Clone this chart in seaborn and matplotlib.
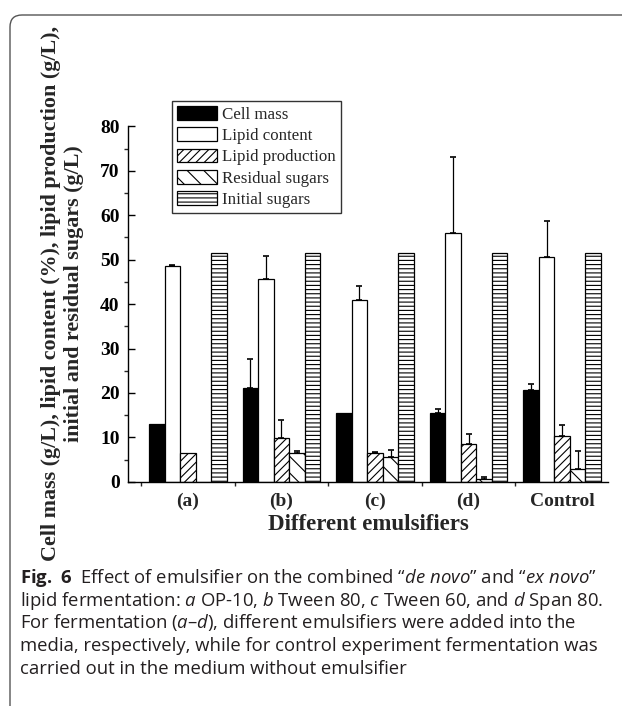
import numpy as np
import pandas as pd
import matplotlib
matplotlib.use('Agg')
import matplotlib.pyplot as plt
import matplotlib.patches as mpatches
import matplotlib.transforms as mtransforms
import seaborn as sns

# Data
groups = ['(a)', '(b)', '(c)', '(d)', 'Control']
series = ['Cell mass', 'Lipid content', 'Lipid production', 'Residual sugars', 'Initial sugars']

cell_mass = [13.1, 21.0, 15.5, 15.4, 20.6]
cell_mass_err = [0, 6.7, 0, 0.9, 1.5]
lipid_content = [48.6, 45.6, 40.9, 56.0, 50.7]
lipid_content_err = [0.2, 5.3, 3.2, 17.1, 8.1]
lipid_production = [6.4, 9.8, 6.4, 8.5, 10.4]
lipid_production_err = [0, 4.1, 0.4, 2.2, 2.4]
residual_sugars = [0, 6.5, 5.5, 0.5, 2.9]
residual_sugars_err = [0, 0.5, 1.6, 0.6, 4.0]
initial_sugars = [51.4, 51.4, 51.4, 51.4, 51.4]
initial_sugars_err = [0, 0, 0, 0, 0]

values = [cell_mass, lipid_content, lipid_production, residual_sugars, initial_sugars]
errors = [cell_mass_err, lipid_content_err, lipid_production_err, residual_sugars_err, initial_sugars_err]

df = pd.DataFrame({
    'group': np.tile(groups, len(series)),
    'series': np.repeat(series, len(groups)),
    'value': np.concatenate(values),
})

sns.set_style('ticks')
plt.rcParams['font.family'] = ['Liberation Serif']
plt.rcParams['hatch.linewidth'] = 0.8
plt.rcParams['hatch.color'] = 'black'
plt.rcParams['mathtext.fontset'] = 'custom'
plt.rcParams['mathtext.rm'] = 'Open Sans'
plt.rcParams['mathtext.it'] = 'Open Sans:italic'
plt.rcParams['mathtext.bf'] = 'Open Sans:bold'

fig = plt.figure(figsize=(6.22, 7.06), dpi=100)
ax = fig.add_axes([128 / 622, (706 - 481.7) / 706, 480 / 622, 355.2 / 706])

palette = {'Cell mass': 'black', 'Lipid content': 'white', 'Lipid production': 'white',
           'Residual sugars': 'white', 'Initial sugars': 'white'}
sns.barplot(data=df, x='group', y='value', hue='series', hue_order=series, order=groups,
            palette=palette, saturation=1, edgecolor='black', linewidth=0.9,
            width=0.83, errorbar=None, legend=False, ax=ax)

hatches = ['', '', '////', '\\\\', '----']
for cont, h in zip(ax.containers, hatches):
    for bar in cont:
        bar.set_hatch(h)

# one-sided error bars on top of each bar
for cont, errs in zip(ax.containers, errors):
    for bar, e in zip(cont, errs):
        if e > 0:
            x = bar.get_x() + bar.get_width() / 2
            ax.errorbar(x, bar.get_height(), yerr=[[0], [e]], color='black',
                        lw=0.9, capsize=2.5, capthick=1.2)

ax.set_ylim(0, 80)
ax.set_xlim(-0.64, 4.49)
ax.set_yticks(np.arange(0, 81, 10))
ax.set_yticks(np.arange(5, 80, 10), minor=True)
ax.set_xticks(np.arange(-0.5, 4.0, 1.0), minor=True)
sns.despine(ax=ax)
for s in ['left', 'bottom']:
    ax.spines[s].set_linewidth(1.0)
    ax.spines[s].set_color('black')

ax.tick_params(axis='y', which='major', direction='in', length=5, width=1, pad=6,
               labelsize=14, colors='black')
ax.tick_params(axis='y', which='minor', direction='out', length=3, width=1)
ax.tick_params(axis='x', which='major', length=0, pad=8, labelsize=14)
ax.tick_params(axis='x', which='minor', direction='out', length=3, width=1)
for lab in ax.get_xticklabels() + ax.get_yticklabels():
    lab.set_fontweight('bold')

ax.set_xlabel('Different emulsifiers', fontsize=16.5, fontweight='bold', labelpad=3)
ax.set_ylabel('Cell mass (g/L), lipid content (%), lipid production (g/L),\n'
              'initial and residual sugars (g/L)',
              fontsize=15.8, fontweight='bold', linespacing=1.22)
ax.yaxis.set_label_coords(-0.092, 0.53)

leg = ax.legend(ax.containers, series, loc='upper left', bbox_to_anchor=(0.092, 1.072),
                borderaxespad=0, fancybox=False, frameon=True, fontsize=12.2,
                handlelength=2.35, handleheight=0.85, handletextpad=0.3,
                labelspacing=0.28, borderpad=0.3)
leg.get_frame().set_edgecolor('black')
leg.get_frame().set_linewidth(1.0)

# caption below the chart
cap_lines = [
    r"$\mathbf{Fig.\ 6}$  Effect of emulsifier on the combined “$\mathit{de\ novo}$” and “$\mathit{ex\ novo}$”",
    r"lipid fermentation: $\mathit{a}$ OP-10, $\mathit{b}$ Tween 80, $\mathit{c}$ Tween 60, and $\mathit{d}$ Span 80.",
    r"For fermentation ($\mathit{a}$–$\mathit{d}$), different emulsifiers were added into the",
    "media, respectively, while for control experiment fermentation was",
    "carried out in the medium without emulsifier",
]
for i, line in enumerate(cap_lines):
    fig.text(20 / 622, 1 - (583 + i * 22.7) / 706, line, family='Open Sans',
             fontsize=13.3, color='#231f20', va='baseline', ha='left')

# rounded frame (top and left edges visible)
frame = mpatches.FancyBboxPatch((10, -60), 700, 691 + 60, boxstyle='round,pad=0,rounding_size=12',
                                transform=mtransforms.IdentityTransform(), fill=False,
                                edgecolor='#555555', linewidth=1.0)
fig.add_artist(frame)

fig.savefig('out.png', dpi=100)
